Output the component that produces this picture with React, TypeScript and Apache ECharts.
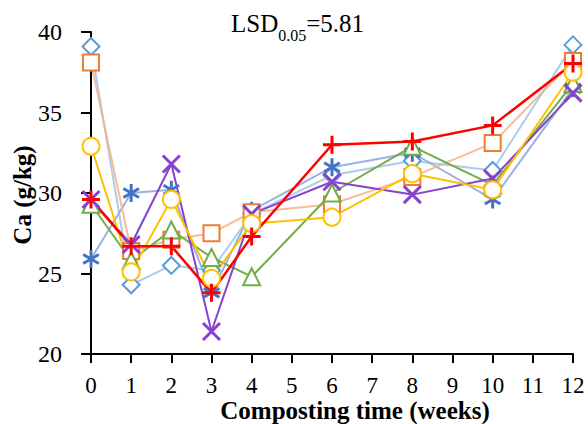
import React, { useEffect, useRef } from "react";
import * as echarts from "echarts";

// Sampling times (weeks)
const weeks = [0, 1, 2, 3, 4, 6, 8, 10, 12];

// Ca content (g/kg) per treatment
const seriesDiamond = [39.1, 24.3, 25.5, 25.2, 28.7, 31.1, 32.0, 31.4, 39.2];
const seriesStar = [25.9, 30.0, 30.2, 23.8, 28.9, 31.6, 32.5, 29.6, 36.5];
const seriesSquare = [38.1, 26.4, 27.1, 27.5, 28.8, 29.3, 31.0, 33.1, 38.2];
const seriesTriangle = [29.3, 25.8, 27.7, 26.0, 24.8, 30.0, 32.9, 30.5, 36.8];
const seriesCross = [29.6, 26.8, 31.8, 21.4, 28.7, 30.7, 29.9, 30.9, 36.2];
const seriesCircle = [32.9, 25.1, 29.6, 24.7, 28.1, 28.5, 31.2, 30.2, 37.5];
const seriesPlus = [29.6, 26.7, 26.7, 23.8, 27.3, 33.0, 33.2, 34.2, 38.05];

const yTicks = [20, 25, 30, 35, 40];

const FONT = "'Liberation Serif', 'Times New Roman', serif";

const PLUS = "path://M5,0L5,10M0,5L10,5";
const CROSS = "path://M0,0L10,10M10,0L0,10";
const ASTERISK = "path://M5,0L5,10M0.67,2.5L9.33,7.5M0.67,7.5L9.33,2.5";

const pairs = (vals: number[]) => weeks.map((w, i) => [w, vals[i]]);

function hollow(name: string, vals: number[], symbol: string, size: number, marker: string, line: string, lw = 2) {
  return {
    name,
    type: "line",
    data: pairs(vals),
    symbol,
    symbolSize: size,
    lineStyle: { color: line, width: lw },
    itemStyle: { color: marker, borderColor: marker, borderWidth: 3 },
  };
}

function stroked(name: string, vals: number[], symbol: string, size: number, marker: string, line: string, lw = 2) {
  return {
    name,
    type: "line",
    data: pairs(vals),
    symbol,
    symbolSize: size,
    symbolKeepAspect: true,
    lineStyle: { color: line, width: lw },
    itemStyle: { color: "rgba(0,0,0,0)", borderColor: marker, borderWidth: 3 },
  };
}

export default function App() {
  const ref = useRef<HTMLDivElement>(null);

  useEffect(() => {
    if (!ref.current) return;
    const chart = echarts.init(ref.current, undefined, { renderer: "svg" });
    chart.setOption({
      animation: false,
      backgroundColor: "#ffffff",
      grid: { left: 91, right: 15, top: 32, bottom: 70 },
      xAxis: {
        type: "value",
        min: 0,
        max: 12,
        interval: 1,
        axisLine: { show: true, onZero: false, lineStyle: { color: "#000", width: 2 } },
        axisTick: { show: true, length: 9, lineStyle: { color: "#000", width: 2 } },
        axisLabel: { color: "#000", fontFamily: FONT, fontSize: 23, margin: 20 },
        splitLine: { show: false },
      },
      yAxis: {
        type: "value",
        min: yTicks[0],
        max: yTicks[yTicks.length - 1],
        interval: 5,
        axisLine: { show: true, lineStyle: { color: "#000", width: 2 } },
        axisTick: { show: true, length: 10, lineStyle: { color: "#000", width: 2 } },
        axisLabel: { color: "#000", fontFamily: FONT, fontSize: 24, margin: 29 },
        splitLine: { show: false },
      },
      graphic: [
        {
          type: "text",
          x: 355,
          y: 410,
          style: {
            text: "Composting time (weeks)",
            font: `bold 25px ${FONT}`,
            fill: "#000",
            align: "center",
            verticalAlign: "middle",
          },
        },
        {
          type: "text",
          x: 22,
          y: 195,
          rotation: Math.PI / 2,
          style: {
            text: "Ca (g/kg)",
            font: `bold 25px ${FONT}`,
            fill: "#000",
            align: "center",
            verticalAlign: "middle",
          },
        },
        {
          type: "text",
          x: 231,
          y: 11,
          style: {
            text: "{a|LSD}{b|0.05}{a|=5.81}",
            fill: "#000",
            rich: {
              a: { fontFamily: FONT, fontSize: 25, lineHeight: 32, verticalAlign: "top", fill: "#000" },
              b: { fontFamily: FONT, fontSize: 16, lineHeight: 16, verticalAlign: "bottom", fill: "#000" },
            },
          },
        },
      ],
      series: [
        hollow("Diamond", seriesDiamond, "emptyDiamond", 17, "#5B9BD5", "rgba(157,195,230,0.85)"),
        stroked("Star", seriesStar, ASTERISK, 18, "#4472C4", "rgba(143,170,220,0.9)"),
        hollow("Square", seriesSquare, "emptyRect", 16, "#ED7D31", "rgba(244,177,131,0.85)"),
        hollow("Triangle", seriesTriangle, "emptyTriangle", 17, "#70AD47", "#70AD47"),
        stroked("Cross", seriesCross, CROSS, 17, "#8642CC", "#8642CC"),
        hollow("Circle", seriesCircle, "emptyCircle", 17, "#FFC000", "#FFC000"),
        stroked("Plus", seriesPlus, PLUS, 18, "#FF0000", "#FF0000", 2.5),
      ],
    });
    return () => chart.dispose();
  }, []);

  return (
    <div
      ref={ref}
      style={{ position: "absolute", left: 0, top: 0, width: 588, height: 424 }}
    />
  );
}
